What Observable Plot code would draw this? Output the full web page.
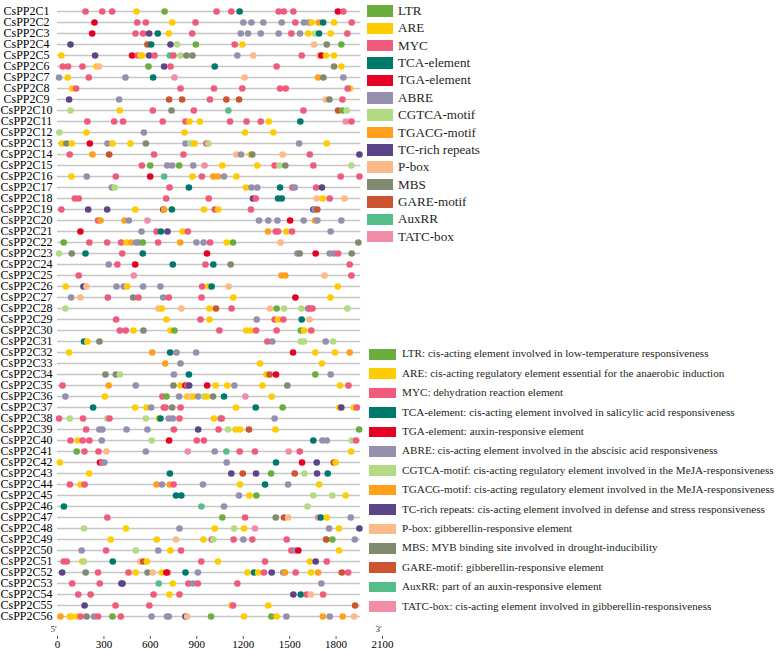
<!DOCTYPE html>
<html><head><meta charset="utf-8">
<script src="https://cdn.jsdelivr.net/npm/d3@7"></script>
<script src="https://cdn.jsdelivr.net/npm/@observablehq/plot@0.6"></script>
<style>
body{margin:0;background:#fff;font-family:"Liberation Serif","Times New Roman",serif;}
#wrap{position:relative;width:777px;height:650px;overflow:hidden;background:#fff}
#wrap svg{position:absolute;left:0;top:0}
.sw{position:absolute}
.lt{position:absolute;white-space:nowrap;color:#231f20;line-height:1;transform:translateY(-50%)}
</style></head><body><div id="wrap"></div>
<script>
const genes = ["CsPP2C1","CsPP2C2","CsPP2C3","CsPP2C4","CsPP2C5","CsPP2C6","CsPP2C7","CsPP2C8","CsPP2C9","CsPP2C10",
"CsPP2C11","CsPP2C12","CsPP2C13","CsPP2C14","CsPP2C15","CsPP2C16","CsPP2C17","CsPP2C18","CsPP2C19","CsPP2C20",
"CsPP2C21","CsPP2C22","CsPP2C23","CsPP2C24","CsPP2C25","CsPP2C26","CsPP2C27","CsPP2C28","CsPP2C29","CsPP2C30",
"CsPP2C31","CsPP2C32","CsPP2C33","CsPP2C34","CsPP2C35","CsPP2C36","CsPP2C37","CsPP2C38","CsPP2C39","CsPP2C40",
"CsPP2C41","CsPP2C42","CsPP2C43","CsPP2C44","CsPP2C45","CsPP2C46","CsPP2C47","CsPP2C48","CsPP2C49","CsPP2C50",
"CsPP2C51","CsPP2C52","CsPP2C53","CsPP2C54","CsPP2C55","CsPP2C56"];

const elementNames = ["LTR","ARE","MYC","TCA-element","TGA-element","ABRE","CGTCA-motif","TGACG-motif","TC-rich repeats","P-box","MBS","GARE-motif","AuxRR","TATC-box"];
const elementCodes = ["L","A","M","T","G","B","C","O","R","P","S","E","X","Z"];
const elementColors = ["#6aaf3d","#ffcc00","#ef5a7d","#00796d","#e60023","#9590ae","#b3db84","#ff9f1c","#5b4487","#fcb98a","#808a6f","#cc5430","#55bd8a","#f28da7"];
const elementDescriptions = [
"LTR: cis-acting element involved in low-temperature responsiveness",
"ARE: cis-acting regulatory element essential for the anaerobic induction",
"MYC: dehydration reaction element",
"TCA-element: cis-acting element involved in salicylic acid responsiveness",
"TGA-element: auxin-responsive element",
"ABRE: cis-acting element involved in the abscisic acid responsiveness",
"CGTCA-motif: cis-acting regulatory element involved in the MeJA-responsiveness",
"TGACG-motif: cis-acting regulatory element involved in the MeJA-responsiveness",
"TC-rich repeats: cis-acting element involved in defense and stress responsiveness",
"P-box: gibberellin-responsive element",
"MBS: MYB binding site involved in drought-inducibility",
"GARE-motif: gibberellin-responsive element",
"AuxRR: part of an auxin-responsive element",
"TATC-box: cis-acting element involved in gibberellin-responsiveness"];

// element code + position (bp) for each promoter, in gene order
const sites = [
"M181 M289 M353 A511 L692 M1028 M1123 T1177 M1429 M1463 M1524 G1812 M1847",
"G239 M515 M571 A741 M892 B1201 B1253 B1330 B1449 M1537 B1593 B1625 A1643 O1688 T1716 A1787 M1901",
"G224 M504 M553 R592 T648 A719 M870 B1184 B1231 B1313 B1429 M1511 B1567 A1621 C1664 T1690 A1765 M1873",
"R84 E581 T605 R730 C773 L894 M1145 A1194 P1658 S1740 L1834",
"A25 R243 G482 M519 A536 A547 R592 M627 X726 M749 C795 S833 S872 B1162 P1265 M1578 P1692 G1705 A1735 A1787",
"M34 M68 M161 A252 P267 L588 R689 M730 T1016 M1416 S1787 A1834",
"B10 A66 M202 B439 T618 Z756 P1209 O1684 S1718 B1847",
"A94 M120 M795 M1011 M1194 M1438 M1475 A1890 M1875",
"R75 B398 E721 E805 M985 E1091 E1173 P1733 S1757 M1841",
"C84 A402 M616 S737 M881 X1104 M1589 E1813 L1841 C1869",
"M193 M366 M424 M680 M827 A853 A920 M1115 M1222 M1313 A1365 T1569 Z1862 M1899",
"C12 A187 B558 A821 A1212 A1395",
"A28 S58 A92 G209 B323 A355 A471 S571 B827 C859 C877 A887 M962 C975 B1561 A1740",
"M79 O226 E334 M624 M814 P1156 B1186 A1248 S1259 P1455 M1630 R1951",
"M545 L599 B709 B741 L786 B877 Z950 A1065 A1291 M1403 C1434 S1472 M1653 C1899",
"A90 B189 M377 G599 X689 A872 M933 O1007 O1037 B1076 A1156 M1830 M1951",
"B351 C370 M724 T849 A1218 B1253 B1291 T1438 M1518 B1533 M1671 R1709",
"M112 M137 M702 M977 R1263 M1281 T1425 T1449 P1675 A1714 M1759 P1854",
"M25 R198 R321 A502 R683 O689 T739 A946 M1016 A1039 M1250 R1653 B1662 E1679",
"M262 O278 O433 B461 Z581 B1302 B1362 B1421 G1503 B1591 O1664 B1679 B1834",
"G148 B543 M640 T668 R711 A808 M842 O1360 M1410 M1425 A1479 M1515 B1765",
"L40 M206 M321 M411 A446 O478 B508 B525 L551 M650 O793 B898 B944 M986 A1093 L1134 P1442 S1944",
"C10 S92 T181 M418 T551 G966 B1550 S1565 G1668 B1759 B1787 M1813 S1901",
"B331 M387 G502 T745 M956 T1007 S1119 M1888",
"M137 Z493 O1447 O1472 P1725 M1899",
"A53 R168 P187 B381 B428 A450 B553 B665 M935 A975 T996 P1106 A1811",
"B88 P148 M325 S489 M523 B683 M719 M931 A1136 G1537 A1763",
"C51 P652 A674 P801 A982 E1024 M1125 P1373 L1416 C1464 C1576 B1619 M1630 M1647 C1873",
"M379 A704 M924 A982 B1287 M1403 A1425 M1459 T1578 P1628",
"M403 M441 A491 S555 A730 L756 M1046 A1220 A1248 M1283 M1416 L1572 A1593 M1640",
"T172 A193 S271 M1356 B1388 C1572 C1593 B1733 C1781",
"A75 O612 T728 B769 B896 G1522 A1666 A1793 O1888",
"O696 B795 A1309 A1709",
"S310 S377 C403 B752 T849 A1350 E1371 G1412 L1666 B1765",
"M32 O331 B506 S749 A795 G827 M840 R851 G967 A1022 A1097 B1143 A1324 S1485 A1826 M1880",
"B51 A306 M678 L704 B786 A838 P859 A877 B909 C946 A964 S1005 T1076 Z1214 A1384",
"T230 A502 A575 B605 M687 M698 S741 M795 A1153 T1281 L1455 A1821 R1834 A1914 M1934",
"M10 C79 M165 C321 M336 C571 A655 T665 B719 B745 M788 A1011 S1055 M1061 B1403",
"M185 B271 B290 B446 B581 M752 R909 M1041 C1102 A1151 A1179 E1237 A1408 L1949",
"M84 A131 M163 M206 B286 C609 G721 M900 M946 T1653 B1712 B1740 C1901 M1929",
"L124 M174 M265 P316 B571 Z842 B1016 X1091 M1177 M1276 Z1494 M1565 A1897",
"A15 G275 M288 B303 B1093 T1412 G1580 R1675 E1785 A1798",
"A204 T726 R1123 E1197 R1283 L1380 E1533 C1595 R1677 T1746",
"M80 A149 M175 O640 B675 O725 M750 B940 A1179 T1341 B1490 A1690",
"T766 T800 B1173 A1240 L1285 C1653 C1776 A1862",
"T41 X930 B1076 C1615",
"M322 L1065 M1212 S1410 E1464 P1490 Z1684 T1701 A1740 B1895",
"C171 A442 B788 A1016 C1141 A1205 Z1276 B1755 A1819 R1951",
"A344 A641 P765 A943 M997 C1007 M1138 B1201 M1259 M1481 C1733 E1737 L1776 B1921",
"B156 M314 C506 B651 A729 M798 M1511 B1535 G1556 A1819",
"M40 M60 A160 C170 T357 P534 E554 A578 M929 A1037 M1341 A1630 R1668 M1740",
"R30 S182 M262 M459 A505 S582 P615 A675 M712 G704 T827 B907 A1227 T1270 A1296 M1334 R1384 B1459 O1470 M1539 A1638 O1684 E1837 M1878",
"M95 M273 R413 R420 X654 A745 M846 B875 M907 M1162 B1705",
"M134 M214 M621 A723 M788 R1524 T1572 M1610 P1636 M1716",
"R175 M375 M593 A1125 M1134 A1362 E1923",
"O19 A80 A91 A128 M149 S188 B236 M262 L355 M409 B608 B708 B719 R827 P838 L992 A1205 L1382 A1416 B1479 O1714 B1759 O1843 P1916"
];

const promoterLength = 1960;
const xTicks = [0,300,600,900,1200,1500,1800,2100];
const strandEnds = [{label:"5'", pos:0},{label:"3'", pos:2100}];

const data = sites.flatMap((s,i)=> s.split(" ").map(t=>({
  gene: genes[i],
  type: elementNames[elementCodes.indexOf(t[0])],
  pos: +t.slice(1)
})));

const font = '"Liberation Serif","Times New Roman",serif';
const chart = Plot.plot({
  width: 400, height: 650,
  marginLeft: 57, marginRight: 18, marginTop: 4, marginBottom: 14,
  style: {fontFamily: font, color: "#000", background: "transparent", overflow: "visible"},
  x: {domain: [0, 2100], label: null},
  y: {type: "point", domain: genes, insetBottom: 13.8, label: null},
  color: {domain: elementNames, range: elementColors},
  marks: [
    Plot.ruleY(genes, {y: d => d, x1: 0, x2: promoterLength, stroke: "#c6c6c6", strokeWidth: 1.6}),
    Plot.dot(data, {x: "pos", y: "gene", fill: "type", r: 3.3}),
    Plot.axisY({tickSize: 0, tickPadding: 31, textAnchor: "middle", fontSize: 12, fill: "#000"}),
    Plot.axisX(xTicks, {anchor: "bottom", tickSize: 3, tickPadding: 1, fontSize: 11, fill: "#000", stroke: "#555", tickFormat: d => String(d)}),
    Plot.text(strandEnds, {x: "pos", text: "label", frameAnchor: "bottom", dy: -5, dx: -4, fontSize: 9, fill: "#333"})
  ]
});
const wrap = d3.select("#wrap");
wrap.node().appendChild(chart);

// fit legend font sizes to the widths measured on the reference
const ctx = document.createElement("canvas").getContext("2d");
function fitSize(text, targetWidth, base) {
  ctx.font = base + "px " + font;
  const w = ctx.measureText(text).width;
  return w > 0 ? base * targetWidth / w : base;
}
const topSize = Math.min(14, fitSize("TC-rich repeats", 82, 13));
const botSize = Math.min(12, fitSize(elementDescriptions[6], 372, 11));

// top legend
const top0 = 11, topStep = 17.36;
elementNames.forEach((name, i) => {
  const c = top0 + i * topStep;
  wrap.append("div").attr("class","sw")
    .style("left","367px").style("top",(c-5.75)+"px").style("width","26px").style("height","11.5px")
    .style("background", elementColors[i]);
  wrap.append("div").attr("class","lt")
    .style("left","398px").style("top",c+"px").style("font-size",topSize+"px").text(name);
});
// bottom legend
const bot0 = 354.3, botStep = 19.4;
elementDescriptions.forEach((desc, i) => {
  const c = bot0 + i * botStep;
  wrap.append("div").attr("class","sw")
    .style("left","369px").style("top",(c-5.25)+"px").style("width","27px").style("height","10.5px")
    .style("background", elementColors[i]);
  wrap.append("div").attr("class","lt")
    .style("left","402px").style("top",c+"px").style("font-size",botSize+"px").text(desc);
});
</script></body></html>
